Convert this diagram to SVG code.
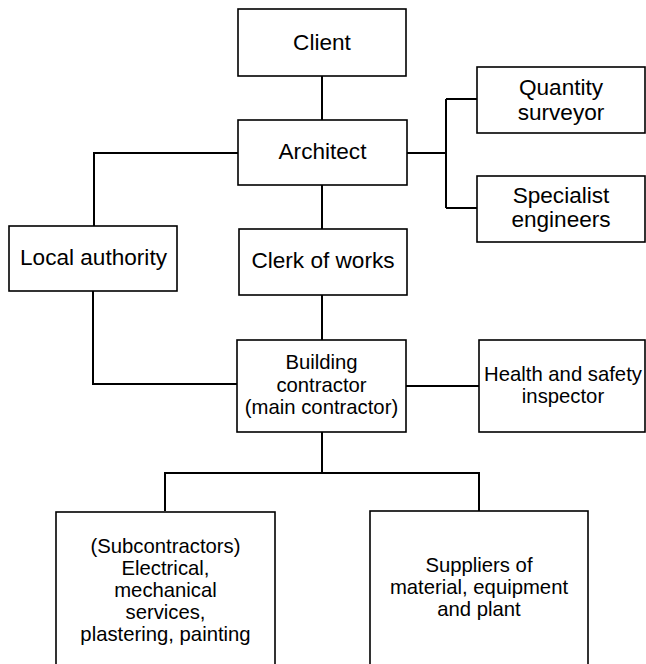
<svg xmlns="http://www.w3.org/2000/svg" width="646" height="664" viewBox="0 0 646 664">
<style>
.box{fill:#fff;stroke:#000;stroke-width:1.6}
.ln{fill:none;stroke:#000;stroke-width:2}
text{font-family:"Liberation Sans",Arial,sans-serif;font-size:22.6px;fill:#000;text-anchor:middle}
.sm{font-size:20.3px}
</style>
<rect width="646" height="664" fill="#fff"/>
<g id="connectors">
<path class="ln" d="M322 76V120"/>
<path class="ln" d="M322 185V229"/>
<path class="ln" d="M322 295V340"/>
<path class="ln" d="M238 153H94V226"/>
<path class="ln" d="M93 291V384H238"/>
<path class="ln" d="M407 153H446M446 99V208M446 99H477M446 208H477"/>
<path class="ln" d="M406 386H479"/>
<path class="ln" d="M322 432V473M165 511V473H479V511"/>
</g>
<g id="client"><rect class="box" x="238" y="9" width="168" height="67"/><text x="322" y="50">Client</text></g>
<g id="architect"><rect class="box" x="238" y="120" width="169" height="65"/><text x="322.5" y="159">Architect</text></g>
<g id="quantity-surveyor"><rect class="box" x="477" y="67" width="168" height="66"/><text x="561" y="95">Quantity</text><text x="561" y="120">surveyor</text></g>
<g id="specialist-engineers"><rect class="box" x="477" y="176" width="168" height="66"/><text x="561" y="203">Specialist</text><text x="561" y="227">engineers</text></g>
<g id="local-authority"><rect class="box" x="9" y="226" width="168" height="65"/><text x="93.5" y="265">Local authority</text></g>
<g id="clerk-of-works"><rect class="box" x="239" y="229" width="168" height="66"/><text x="323" y="268">Clerk of works</text></g>
<g id="building-contractor"><rect class="box" x="237" y="340" width="169" height="92"/><text class="sm" x="321.5" y="369">Building</text><text class="sm" x="321.5" y="392">contractor</text><text class="sm" x="321.5" y="414">(main contractor)</text></g>
<g id="health-safety"><rect class="box" x="479" y="340" width="166" height="92"/><text class="sm" x="563" y="381">Health and safety</text><text class="sm" x="563" y="403">inspector</text></g>
<g id="subcontractors"><rect class="box" x="56" y="512" width="219" height="160"/><text class="sm" x="165.5" y="553">(Subcontractors)</text><text class="sm" x="165.5" y="575">Electrical,</text><text class="sm" x="165.5" y="597">mechanical</text><text class="sm" x="165.5" y="619">services,</text><text class="sm" x="165.5" y="641">plastering, painting</text></g>
<g id="suppliers"><rect class="box" x="370" y="511" width="218" height="160"/><text class="sm" x="479" y="572">Suppliers of</text><text class="sm" x="479" y="594">material, equipment</text><text class="sm" x="479" y="616">and plant</text></g>
</svg>
